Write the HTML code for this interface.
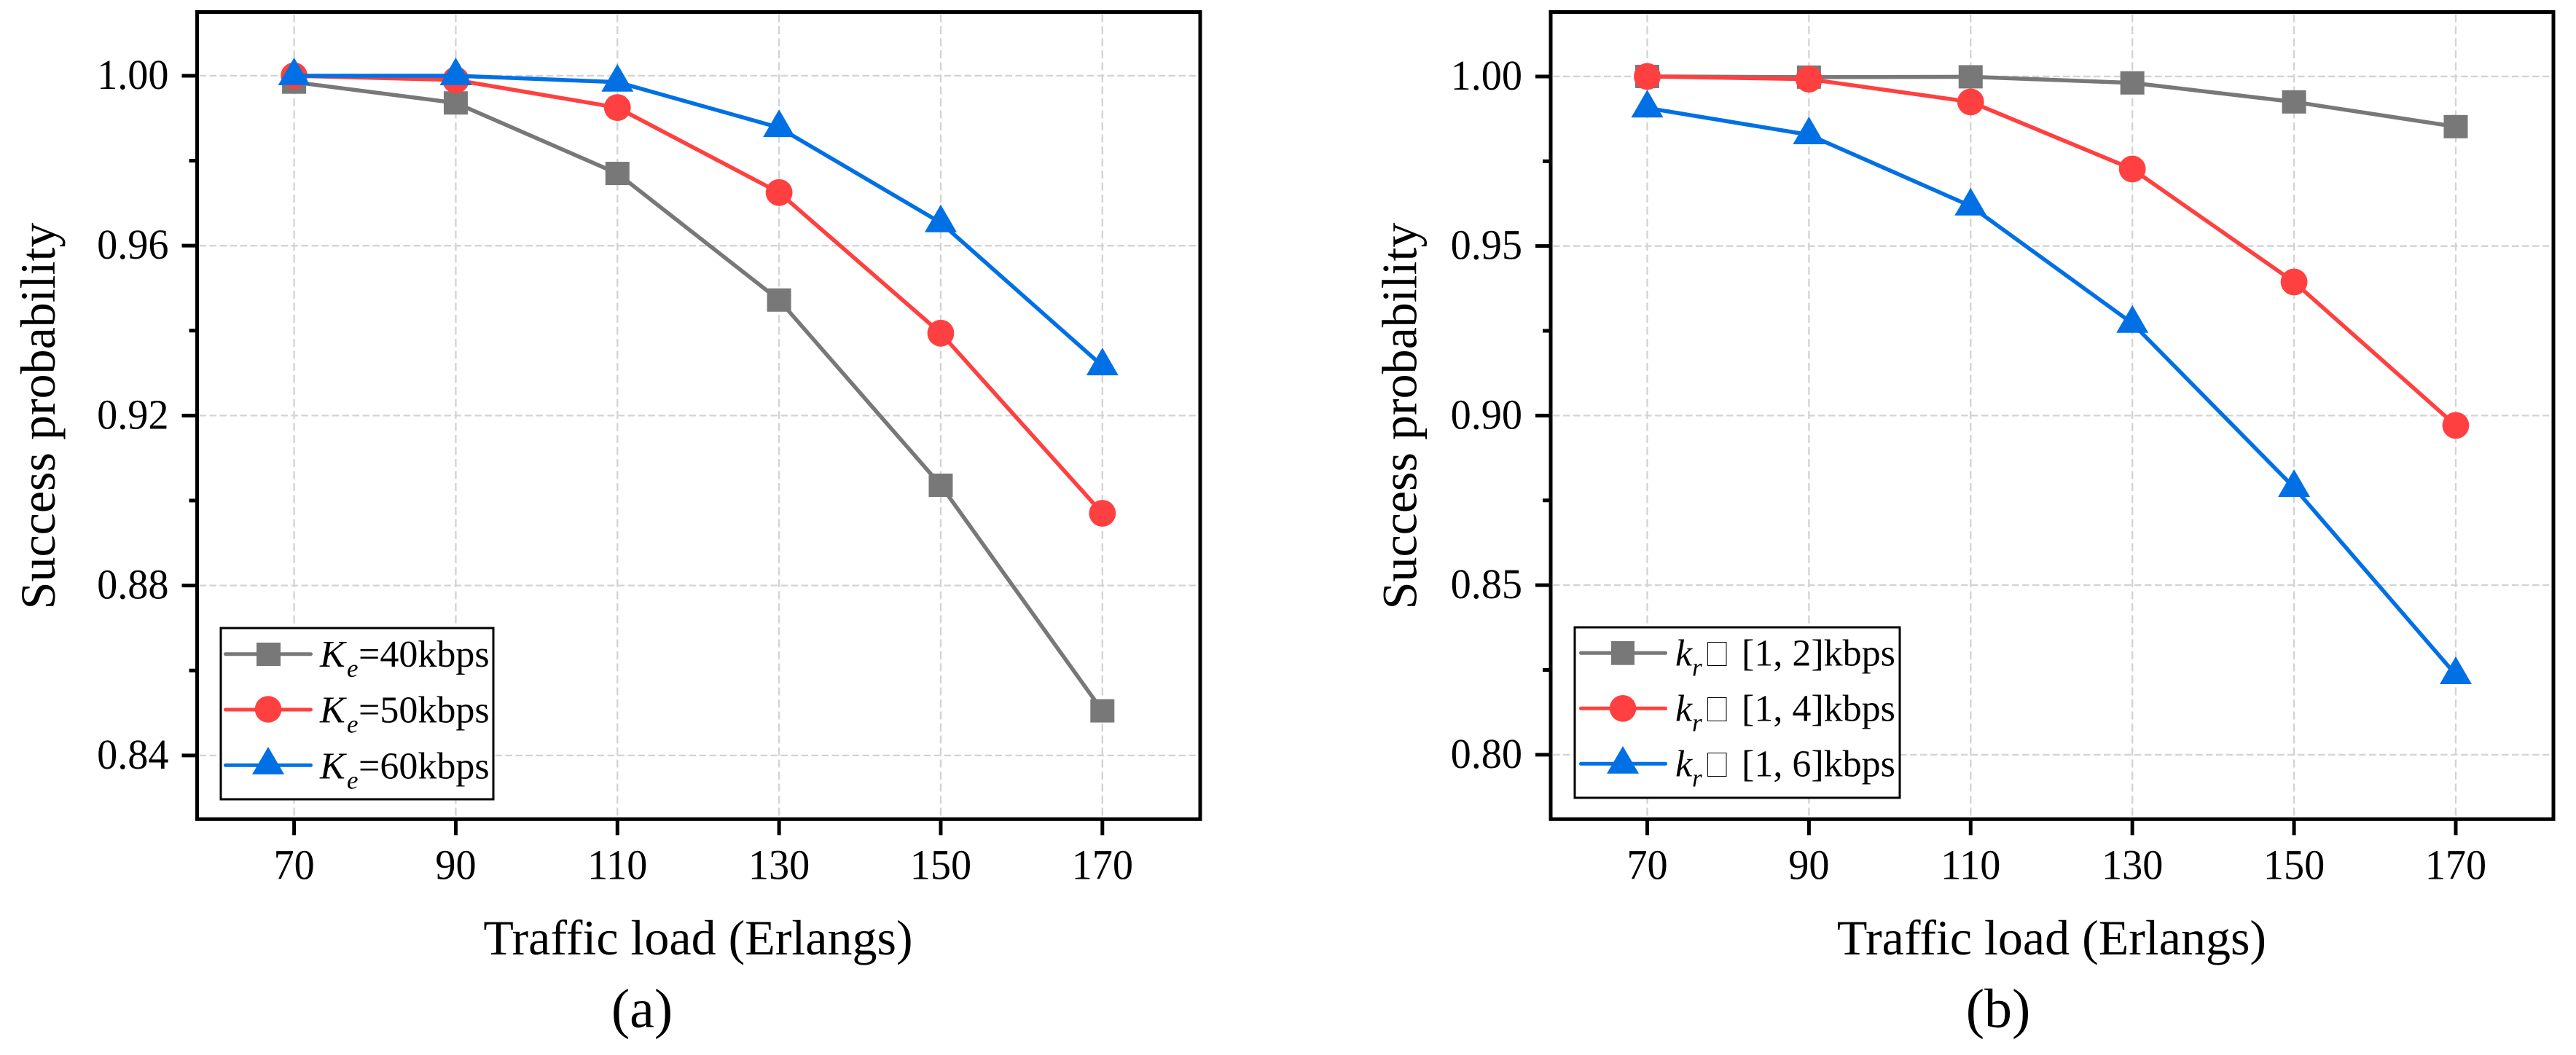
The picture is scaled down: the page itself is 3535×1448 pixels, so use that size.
<!DOCTYPE html>
<html lang="en">
<head>
<meta charset="utf-8">
<title>Success probability versus traffic load</title>
<style>
html,body{margin:0;padding:0;background:#fff;}
body{width:3535px;height:1448px;overflow:hidden;}
svg{display:block;}
text{font-family:"Liberation Serif","Times New Roman",serif;fill:#000;}
.it{font-style:italic;}
</style>
</head>
<body>
<svg id="figure" xmlns="http://www.w3.org/2000/svg" width="3535" height="1448" viewBox="0 0 3535 1448">
  <rect x="0" y="0" width="3535" height="1448" fill="#fff"/>
  <g id="panel-a"></g>
  <g id="panel-b"></g>

  <g>
    <rect x="303" y="862" width="374" height="235" fill="#fff" stroke="#000" stroke-width="3"/>
    <g>
      <line x1="309.5" x2="426.5" y1="897.7" y2="897.7" stroke="#787878" stroke-width="5" stroke-linecap="round"/>
      <rect x="352" y="882" width="33" height="32" fill="#787878"/>
      <text x="439" y="915" font-size="52"><tspan class="it">K</tspan><tspan class="it" font-size="35" x="476" y="929">e</tspan><tspan x="492" y="915">=40kbps</tspan></text>
    </g>
    <g>
      <line x1="309.5" x2="426.5" y1="974" y2="974" stroke="#FF4040" stroke-width="5" stroke-linecap="round"/>
      <circle cx="368" cy="973.5" r="18.3" fill="#FF4040"/>
      <text x="439" y="991.7" font-size="52"><tspan class="it">K</tspan><tspan class="it" font-size="35" x="476" y="1005.7">e</tspan><tspan x="492" y="991.7">=50kbps</tspan></text>
    </g>
    <g>
      <line x1="309.5" x2="426.5" y1="1050.3" y2="1050.3" stroke="#0070E4" stroke-width="5" stroke-linecap="round"/>
      <polygon points="368,1025 390,1062.7 346,1062.7" fill="#0070E4"/>
      <text x="439" y="1068.3" font-size="52"><tspan class="it">K</tspan><tspan class="it" font-size="35" x="476" y="1082.3">e</tspan><tspan x="492" y="1068.3">=60kbps</tspan></text>
    </g>
  </g>

  <g>
    <rect x="2161" y="861" width="446" height="234" fill="#fff" stroke="#000" stroke-width="3"/>
    <g>
      <line x1="2169.5" x2="2285.5" y1="896.3" y2="896.3" stroke="#787878" stroke-width="5" stroke-linecap="round"/>
      <rect x="2211" y="880" width="32" height="32.7" fill="#787878"/>
      <text x="2299" y="913.3" font-size="52"><tspan class="it">k</tspan><tspan class="it" font-size="35" x="2322" y="927.3">r</tspan><tspan x="2390" y="913.3">[1, 2]kbps</tspan></text>
      <rect x="2343.5" y="881.5" width="25.5" height="32" fill="none" stroke="#000" stroke-width="1"/>
    </g>
    <g>
      <line x1="2169.5" x2="2285.5" y1="972.3" y2="972.3" stroke="#FF4040" stroke-width="5" stroke-linecap="round"/>
      <circle cx="2227" cy="972.3" r="18.3" fill="#FF4040"/>
      <text x="2299" y="989.3" font-size="52"><tspan class="it">k</tspan><tspan class="it" font-size="35" x="2322" y="1003.3">r</tspan><tspan x="2390" y="989.3">[1, 4]kbps</tspan></text>
      <rect x="2343.5" y="957.5" width="25.5" height="32" fill="none" stroke="#000" stroke-width="1"/>
    </g>
    <g>
      <line x1="2169.5" x2="2285.5" y1="1048.3" y2="1048.3" stroke="#0070E4" stroke-width="5" stroke-linecap="round"/>
      <polygon points="2227,1024 2249,1061.7 2205,1061.7" fill="#0070E4"/>
      <text x="2299" y="1065.3" font-size="52"><tspan class="it">k</tspan><tspan class="it" font-size="35" x="2322" y="1079.3">r</tspan><tspan x="2390" y="1065.3">[1, 6]kbps</tspan></text>
      <rect x="2343.5" y="1033.5" width="25.5" height="32" fill="none" stroke="#000" stroke-width="1"/>
    </g>
  </g>
</svg>

<script>
// Shared x axis
const trafficLoad = [70, 90, 110, 130, 150, 170];
const xTickLabels = ['70', '90', '110', '130', '150', '170'];

// Panel (a) values
const aYTickLabels = ['1.00', '0.96', '0.92', '0.88', '0.84'];
const aYMinorTicks = [0.98, 0.94, 0.90, 0.86];
const aKe40 = [0.9985, 0.9936, 0.9770, 0.9472, 0.9036, 0.8505];
const aKe50 = [1.0000, 0.9990, 0.9925, 0.9725, 0.9394, 0.8970];
const aKe60 = [1.0000, 1.0000, 0.9985, 0.9878, 0.9654, 0.9317];

// Panel (b) values
const bYTickLabels = ['1.00', '0.95', '0.90', '0.85', '0.80'];
const bYMinorTicks = [0.975, 0.925, 0.875, 0.825];
const bKr2 = [1.0000, 0.9998, 0.9999, 0.9981, 0.9925, 0.9852];
const bKr4 = [1.0000, 0.9992, 0.9925, 0.9727, 0.9394, 0.8971];
const bKr6 = [0.9907, 0.9828, 0.9618, 0.9272, 0.8788, 0.8236];

const SVGNS = 'http://www.w3.org/2000/svg';
function mk(parent, tag, attrs, txt) {
  const el = document.createElementNS(SVGNS, tag);
  for (const k in attrs) el.setAttribute(k, attrs[k]);
  if (txt !== undefined) el.textContent = txt;
  parent.appendChild(el);
  return el;
}

const GRAY = '#787878', RED = '#FF4040', BLUE = '#0070E4', GRID = '#D3D3D3';
const TICK_X_SCALE = 0.97;

function drawPanel(id, box, xDomain, yDomain, yLabels, yMinor, seriesList, titles) {
  const root = document.getElementById(id);
  const xScale = v => box.left + (v - xDomain[0]) / (xDomain[1] - xDomain[0]) * (box.right - box.left);
  const yScale = v => box.bottom - (v - yDomain[0]) / (yDomain[1] - yDomain[0]) * (box.bottom - box.top);

  // Grid
  yLabels.forEach(lab => {
    const y = yScale(parseFloat(lab));
    const g = mk(root, 'line', {x1: box.left + 3, x2: box.right - 6, y1: y, y2: y, stroke: GRID, 'stroke-width': 2.3, 'stroke-dasharray': '9.5 4.5'});
    
    
  });
  trafficLoad.forEach(v => {
    const x = xScale(v);
    const g = mk(root, 'line', {x1: x, x2: x, y1: box.top + 3, y2: box.bottom - 3, stroke: GRID, 'stroke-width': 2.3, 'stroke-dasharray': '11 5.5'});
    
    
  });

  // Series
  seriesList.forEach(s => {
    const pts = trafficLoad.map((v, i) => [xScale(v), yScale(s.values[i])]);
    const line = mk(root, 'polyline', {points: pts.map(p => p[0] + ',' + p[1]).join(' '), fill: 'none', stroke: s.color, 'stroke-width': 5.5, 'stroke-linejoin': 'round'});
    
    
    pts.forEach((p, i) => {
      let m;
      if (s.shape === 'square') {
        m = mk(root, 'rect', {x: p[0] - 16.5, y: p[1] - 16, width: 33, height: 32, fill: s.color});
      } else if (s.shape === 'circle') {
        m = mk(root, 'circle', {cx: p[0], cy: p[1], r: 18.4, fill: s.color});
      } else {
        m = mk(root, 'polygon', {points: p[0] + ',' + (p[1] - 25) + ' ' + (p[0] + 22) + ',' + (p[1] + 13) + ' ' + (p[0] - 22) + ',' + (p[1] + 13), fill: s.color});
      }
      
      
    });
  });

  // Frame
  const frame = mk(root, 'rect', {x: box.left, y: box.top, width: box.right - box.left, height: box.bottom - box.top, fill: 'none', stroke: '#000', 'stroke-width': 5});
  
  

  // Y ticks
  yLabels.forEach(lab => {
    const y = yScale(parseFloat(lab));
    const t = mk(root, 'line', {x1: box.left - 21, x2: box.left, y1: y, y2: y, stroke: '#000', 'stroke-width': 5});
    
    
    const l = mk(root, 'text', {'font-size': 58, 'text-anchor': 'end', transform: 'translate(' + (box.left - 39) + ',' + (y + 18) + ') scale(' + TICK_X_SCALE + ',1)'}, lab);
    
    
  });
  yMinor.forEach(v => {
    const y = yScale(v);
    const t = mk(root, 'line', {x1: box.left - 11, x2: box.left, y1: y, y2: y, stroke: '#000', 'stroke-width': 5});
    
    
  });

  // X ticks
  trafficLoad.forEach((v, i) => {
    const x = xScale(v);
    const t = mk(root, 'line', {x1: x, x2: x, y1: box.bottom, y2: box.bottom + 22, stroke: '#000', 'stroke-width': 5});
    
    
    const l = mk(root, 'text', {'font-size': 58, 'text-anchor': 'middle', transform: 'translate(' + x + ',' + (box.bottom + 82) + ') scale(' + TICK_X_SCALE + ',1)'}, xTickLabels[i]);
    
    
  });

  // Titles
  const xt = mk(root, 'text', {'font-size': 68, 'text-anchor': 'middle', x: titles.xTitleX, y: 1310}, 'Traffic load (Erlangs)');
  
  
  const yt = mk(root, 'text', {'font-size': 68, 'text-anchor': 'middle', transform: 'translate(' + titles.yTitleX + ',571) rotate(-90)'}, 'Success probability');
  
  
  const cap = mk(root, 'text', {'font-size': 76, 'text-anchor': 'middle', x: titles.capX, y: 1410}, titles.cap);
  
  
}

drawPanel('panel-a',
  {left: 270.5, right: 1647, top: 16.5, bottom: 1124.3},
  [58, 182.1], [0.825, 1.015],
  aYTickLabels, aYMinorTicks,
  [
    {key: 'ke-40', values: aKe40, color: GRAY, shape: 'square'},
    {key: 'ke-50', values: aKe50, color: RED, shape: 'circle'},
    {key: 'ke-60', values: aKe60, color: BLUE, shape: 'triangle'}
  ],
  {xTitleX: 958, yTitleX: 75, capX: 881, cap: '(a)'});

drawPanel('panel-b',
  {left: 2128, right: 3504, top: 16.5, bottom: 1124.3},
  [58.06, 182.08], [0.781, 1.019],
  bYTickLabels, bYMinorTicks,
  [
    {key: 'kr-2', values: bKr2, color: GRAY, shape: 'square'},
    {key: 'kr-4', values: bKr4, color: RED, shape: 'circle'},
    {key: 'kr-6', values: bKr6, color: BLUE, shape: 'triangle'}
  ],
  {xTitleX: 2815.5, yTitleX: 1943.6, capX: 2742, cap: '(b)'});
</script>
</body>
</html>
